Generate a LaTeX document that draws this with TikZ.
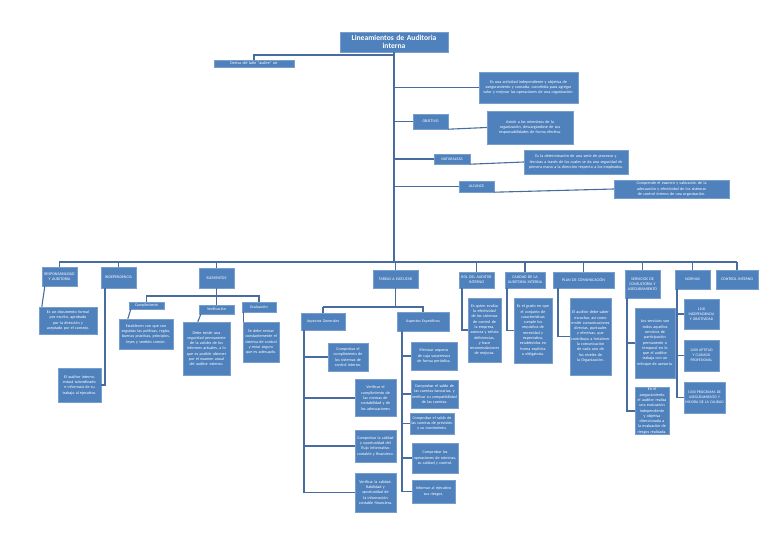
\documentclass[tikz,border=0pt]{standalone}
\usepackage{fontspec}
\setmainfont{Carlito}
\newcommand\mynohyph{\hyphenpenalty10000\exhyphenpenalty10000\relax}
\definecolor{boxfill}{RGB}{79,129,189}
\definecolor{boxline}{RGB}{120,158,205}
\definecolor{conn}{RGB}{70,108,160}
\tikzset{
  box/.style={draw=boxline, line width=0.4pt, fill=boxfill, text=white, align=center,
    inner sep=0.6pt, font=\fontsize{4.1}{5.3}\selectfont\mynohyph},
  lblbox/.style={box, font=\fontsize{4.0}{5.0}\selectfont\mynohyph},
  nbox/.style={box, font=\fontsize{3.8}{5.2}\selectfont\mynohyph},
  ttl/.style={box, font=\bfseries\fontsize{7.6}{8.6}\selectfont},
  wire/.style={draw=conn, line width=1.5pt},
  thin wire/.style={draw=conn, line width=1.1pt},
}
\newcommand\mybox[7][box]{\pgfmathsetmacro\mytw{#5-2}\node[#1,minimum width=#5pt,minimum height=#6pt,text width=\mytw pt] (#2) at (#3,#4) {#7};}
\begin{document}
\begin{tikzpicture}[x=1pt,y=-1pt]
\useasboundingbox (0,0) rectangle (768,543);
% top
\mybox[ttl]{title}{394}{42}{108}{20}{Lineamientos de Auditoria\\interna}
\mybox{deriva}{254}{63.5}{80}{7}{Deriva del latín “audire” oír}
\mybox{def}{528.5}{87.5}{99}{31}{Es una actividad independiente y objetiva de aseguramiento y consulta, concebida para agregar valor y mejorar las operaciones de una organización.}
\mybox[lblbox]{objetivo}{430.5}{121.5}{35}{15}{OBJETIVO}
\mybox{objtxt}{530}{127.5}{86}{33}{Asistir a los miembros de la organización, descargándose de sus responsabilidades de forma efectiva.}
\mybox[lblbox]{naturaleza}{452}{159}{36}{10}{NATURALEZA}
\mybox{nattxt}{576}{162}{104}{24}{Es la determinación de una serie de procesos y técnicas a través de las cuales se da una seguridad de primera mano a la dirección respecto a los empleados.}
\mybox[lblbox]{alcance}{476.5}{186.5}{35}{11}{ALCANCE}
\mybox{alctxt}{671.5}{189}{115}{18}{Comprende el examen y valoración de la adecuación y efectividad de los sistemas de control interno de una organización.}
\coordinate (sp) at (394,55);
\coordinate (busL) at (59,262);
\coordinate (busR) at (737,262);
\draw[wire] (title.south) -- (title.south |- busL);
\draw[wire] (deriva.north) |- (sp);
\draw[wire] (title.south |- def.west) -- (def.west);
\draw[wire] (title.south |- objetivo.west) -- (objetivo.west);
\draw[wire] (title.south |- naturaleza.west) -- (naturaleza.west);
\draw[wire] (title.south |- alcance.west) -- (alcance.west);
\draw[thin wire] (objetivo.south east) -- (objtxt.west);
\draw[thin wire] (naturaleza.south east) -- (nattxt.west);
\draw[thin wire] (alcance.south east) -- (alctxt.west);
\draw[draw=conn, line width=2.2pt] (busL) -- (busR);
% row
\mybox[lblbox]{resp}{59.5}{276.5}{35}{19}{RESPONSABILIDAD Y AUDITORIA}
\mybox[lblbox]{indep}{118.5}{277.5}{35}{21}{INDEPENDENCIA}
\mybox[lblbox]{elem}{216.5}{278}{35}{20}{ELEMENTOS}
\mybox[lblbox]{tareas}{395.5}{279}{45}{18}{TAREAS A EJECUTAR}
\mybox[lblbox]{rol}{476.5}{280}{35}{16}{ROL DEL AUDITOR INTERNO}
\mybox[lblbox]{calidad}{525}{280}{40}{16}{CALIDAD DE LA AUDITORIA INTERNA}
\mybox[lblbox]{plan}{583.5}{280}{61}{16}{PLAN DE COMUNICACIÓN}
\mybox[lblbox]{serv}{642.5}{284}{35}{28}{SERVICIOS DE CONSULTORIA Y ASEGURAMIENTO}
\mybox[lblbox]{normas}{692.5}{279.5}{35}{19}{NORMAS}
\mybox[lblbox]{control}{737}{279.5}{42}{19}{CONTROL INTERNO}
\foreach \n in {resp,indep,elem,tareas,rol,calidad,plan,serv,normas,control}
  \draw[wire] (\n.north |- busL) -- (\n.north);
% responsabilidad
\mybox{resptxt}{68}{320.5}{58}{27}{Es un documento formal por escrito, aprobado por la dirección y aceptado por el consejo.}
\draw[thin wire] ([xshift=3pt]resp.south west) -- ([xshift=3pt]resptxt.north west);
% independencia
\mybox{indeptxt}{79.5}{385}{43}{34}{El auditor interno, estará subordinado e informará de su trabajo al ejecutivo.}
\draw[wire] ([xshift=-13.5pt]indep.south) |- (indeptxt.east);
% elementos
\mybox[lblbox]{cump}{146.5}{305.5}{35}{7}{Cumplimiento}
\mybox[lblbox]{verif}{216.5}{309.5}{35}{9}{Verificación}
\mybox[lblbox]{eval}{259}{307}{34}{10}{Evaluación}
\draw[wire] (cump.north) -- ++(0,-6) -| (eval.north);
\draw[wire] (elem.south) -- (verif.north);
\mybox{cumptxt}{146}{334}{54}{30}{Establecen con que son seguidas las políticas, reglas, buenas prácticas, principios, leyes y sentido común.}
\mybox{veriftxt}{206.5}{348.5}{47}{53}{Debe existir una seguridad permanente de la validez de los informes actuales, a lo que es posible obtener por el examen anual del auditor externo.}
\mybox{evaltxt}{261}{342}{36}{40}{Se debe revisar constantemente el sistema de control y estar seguro que es adecuado.}
\draw[thin wire] ([xshift=2pt]cump.south west) -- ([xshift=9pt]cumptxt.north west);
\draw[thin wire] ([xshift=2pt]verif.south west) -- ([xshift=15pt]veriftxt.north west);
\draw[thin wire] ([xshift=2pt]eval.south west) -- ([xshift=1pt]evaltxt.north west);
% tareas
\mybox[lblbox]{aspgen}{323}{321.5}{44}{17}{Aspectos Generales}
\mybox[lblbox]{aspesp}{423}{321.5}{52}{19}{Aspectos Específicos}
\coordinate (tf) at (0,307);
\draw[wire] (tareas.south) -- (tareas.south |- tf);
\draw[wire] (aspgen.north |- tf) -- (aspgen.north);
\draw[wire] (aspgen.north |- tf) -- (aspesp.north |- tf) -- (aspesp.north);
\mybox{g1}{348}{357}{40}{28}{Comprobar el cumplimiento de los sistemas de control interno.}
\mybox{g2}{375.5}{398}{41}{37}{Verificar el cumplimiento de las normas de contabilidad y de los adecuaciones}
\mybox{g3}{375.5}{446}{41}{32}{Comprobar la calidad y oportunidad del flujo informativo contable y financiero.}
\mybox{g4}{375.5}{492.5}{41}{39}{Verificar la calidad, fiabilidad y oportunidad de la información contable financiera.}
\draw[wire] ([xshift=3pt]aspgen.south west) |- (g4.west);
\foreach \n in {g1,g2,g3}
  \draw[wire] ([xshift=3pt]aspgen.south west |- \n.west) -- (\n.west);
\mybox{e1}{434}{356}{46}{28}{Efectuar arqueos de caja sorpresivos de forma periódica.}
\mybox{e2}{434.5}{394}{47}{28}{Comprobar el saldo de las cuentas bancarias, y verificar su compatibilidad de las cuentas.}
\mybox{e3}{432}{423.5}{44}{21}{Comprobar el saldo de las cuentas de previsión y su movimiento.}
\mybox{e4}{435}{458}{46}{30}{Comprobar las operaciones de nóminas, su calidad y control.}
\mybox{e5}{433.5}{491.5}{43}{23}{Informar al ejecutivo sus riesgos.}
\draw[wire] ([xshift=5pt]aspesp.south west) |- (e5.west);
\foreach \n in {e1,e2,e3,e4}
  \draw[wire] ([xshift=5pt]aspesp.south west |- \n.west) -- (\n.west);
% rol, calidad, plan
\mybox{roltxt}{484.5}{330}{33}{64}{Es quien evalúa la efectividad de los sistemas de control de la empresa, asesora y señala deficiencias, y hace recomendaciones de mejoras.}
\draw[wire] ([xshift=3pt]rol.south west) |- (roltxt.west);
\mybox{caltxt}{533}{330.5}{38}{65}{Es el grado en que el conjunto de características cumple los requisitos de necesidad y expectativa, establecidos en forma explícita u obligatoria.}
\draw[wire] ([xshift=2pt]calidad.south west) |- (caltxt.west);
\mybox{plantxt}{590.5}{336.5}{41}{77}{El auditor debe saber escuchar, así como emitir comunicaciones directas, puntuales y efectivas, que contribuya a fortalecer la comunicación de cada uno de los niveles de la Organización.}
\draw[wire] ([xshift=5pt]plan.south west) |- (plantxt.west);
% servicios
\mybox{s1}{655}{343}{40}{70}{Los servicios son todos aquellos servicios de participación permanente o temporal en lo que el auditor trabaja con un enfoque de asesoría.}
\mybox{s2}{652}{411}{34}{46}{En el aseguramiento el auditor realiza una evaluación independiente y objetiva direccionada a la evaluación de riesgos realizada.}
\draw[wire] ([xshift=2pt]serv.south west) |- (s2.west);
\draw[wire] ([xshift=2pt]serv.south west |- s1.west) -- (s1.west);
% normas
\mybox[nbox]{n1}{701.5}{314}{35}{30}{1100 INDEPENDENCIA Y OBJETIVIDAD}
\mybox[nbox]{n2}{701.5}{355.5}{35}{31}{1200 APTITUD Y CUIDADO PROFESIONAL}
\mybox[nbox]{n3}{704.5}{397.5}{41}{31}{1300 PROGRAMA DE ASEGURAMIENTO Y MEJORA DE LA CALIDAD}
\draw[wire] ([xshift=2pt]normas.south west) |- (n3.west);
\foreach \n in {n1,n2}
  \draw[wire] ([xshift=2pt]normas.south west |- \n.west) -- (\n.west);
\end{tikzpicture}
\end{document}
